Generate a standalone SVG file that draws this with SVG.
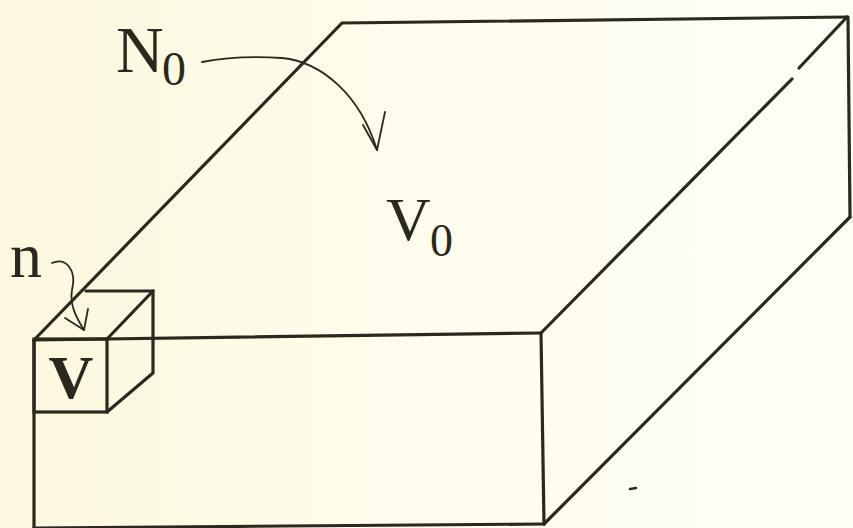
<svg xmlns="http://www.w3.org/2000/svg" width="853" height="528" viewBox="0 0 853 528">
  <defs>
    <linearGradient id="bg" x1="0" y1="0" x2="1" y2="0">
      <stop offset="0" stop-color="#fcf8dd"/>
      <stop offset="0.45" stop-color="#fefcec"/>
      <stop offset="1" stop-color="#fffef6"/>
    </linearGradient>
  </defs>
  <style>
    .edge { fill: none; stroke: #2a291d; stroke-width: 3.2; stroke-linecap: round; stroke-linejoin: miter; }
    .arrow { fill: none; stroke: #2a291d; stroke-width: 1.8; stroke-linecap: round; stroke-linejoin: round; }
    .lbl { font-family: "Liberation Serif", "Times New Roman", serif; fill: #2a291d; }
  </style>
  <rect x="0" y="0" width="853" height="528" fill="url(#bg)"/>

  <g id="main-box">
    <polyline class="edge" points="34,340 342,23 847,17"/>
    <line class="edge" x1="34" y1="340" x2="541" y2="333"/>
    <line class="edge" x1="541" y1="333" x2="792" y2="79"/>
    <line class="edge" x1="799" y1="68" x2="847" y2="17"/>
    <line class="edge" x1="848" y1="17" x2="850" y2="217"/>
    <line class="edge" x1="850" y1="217" x2="544" y2="524"/>
    <line class="edge" x1="34" y1="340" x2="34" y2="530"/>
    <line class="edge" x1="541" y1="333" x2="544" y2="524"/>
    <line class="edge" x1="34" y1="528" x2="544" y2="524"/>
    <line x1="630" y1="489" x2="636" y2="488" stroke="#2a291d" stroke-width="2.5" stroke-linecap="round"/>
  </g>

  <g id="small-cube">
    <rect class="edge" x="34" y="339" width="73" height="73"/>
    <polyline class="edge" points="86,291 153,291 153,373 107,412"/>
    <line class="edge" x1="107" y1="339" x2="153" y2="291"/>
    <text class="lbl" x="71" y="398" font-size="62" font-weight="bold" text-anchor="middle">V</text>
  </g>

  <g id="volume-label">
    <text class="lbl" x="386" y="240" font-size="62">V</text>
    <text class="lbl" x="430" y="256" font-size="46">0</text>
  </g>

  <g id="label-N0">
    <text class="lbl" x="116" y="72" font-size="66">N</text>
    <text class="lbl" x="162" y="85" font-size="48">0</text>
  </g>

  <g id="label-n">
    <text class="lbl" x="10" y="277" font-size="64">n</text>
  </g>

  <g id="connectors">
    <path class="arrow" d="M202,62 C228,57 250,56 282,58 C322,62 360,95 377,150"/>
    <path class="arrow" d="M363,125 L377,150 L385,112"/>
    <path class="arrow" d="M52,263 C66,257 77,270 72,290 C69,306 78,320 84,330"/>
    <path class="arrow" d="M65,318 L84,330 L88,309"/>
  </g>
</svg>
